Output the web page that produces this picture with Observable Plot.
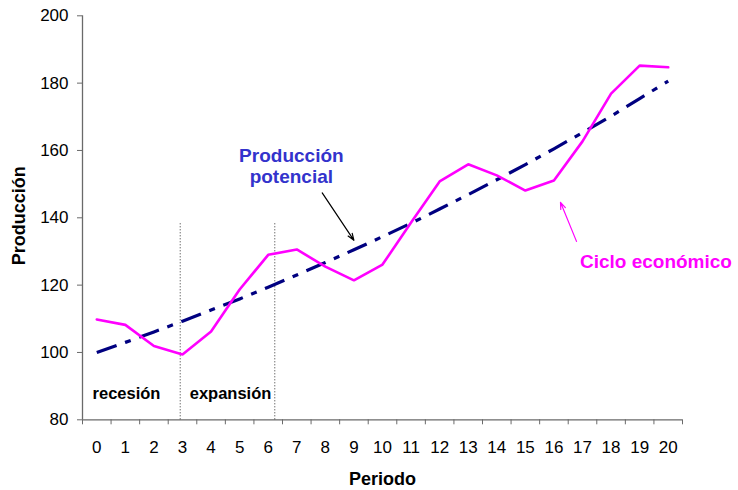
<!DOCTYPE html>
<html>
<head>
<meta charset="utf-8">
<script src="https://cdn.jsdelivr.net/npm/d3@7"></script>
<script src="https://cdn.jsdelivr.net/npm/@observablehq/plot@0.6"></script>
<style>
  html, body { margin: 0; padding: 0; background: #fff; }
  #chart svg { display: block; }
</style>
</head>
<body>
<div id="chart"></div>
<script>
// Periods on the horizontal axis
const periods = [0, 1, 2, 3, 4, 5, 6, 7, 8, 9, 10, 11, 12, 13, 14, 15, 16, 17, 18, 19, 20];

// Potential output (trend growing about 3% per period)
const potential = [100, 103, 106.1, 109.3, 112.6, 115.9, 119.4, 123.0, 126.7, 130.5, 134.4,
                   138.4, 142.6, 146.9, 151.3, 155.8, 160.5, 165.3, 170.2, 175.4, 180.6];

// Actual output following the business cycle
const cycle = [109.8, 108.2, 101.9, 99.4, 106.2, 118.7, 129.0, 130.6, 125.5, 121.4, 126.1,
               138.6, 150.8, 155.9, 152.6, 148.1, 151.1, 162.7, 176.9, 185.2, 184.7];

// Axis ticks
const yTicks = [80, 100, 120, 140, 160, 180, 200];
const xBoundaries = [-0.5, 0.5, 1.5, 2.5, 3.5, 4.5, 5.5, 6.5, 7.5, 8.5, 9.5, 10.5,
                     11.5, 12.5, 13.5, 14.5, 15.5, 16.5, 17.5, 18.5, 19.5, 20.5];

// Phase separators and labels
const phaseBounds = [2.92, 6.23];
const phaseTop = 138.4;
const phaseLabels = ["recesión", "expansión"];
const phaseLabelX = [1.04, 4.68];
const phaseLabelY = 87.8;

// Annotations: [text position] and [arrow tail -> head]
const potentialNote = {text: "Producción\npotencial", x: 6.81, y: 155.4};
const potentialArrow = [{x1: 7.89, y1: 147.4, x2: 9.0, y2: 133.3}];
const cycleNote = {text: "Ciclo económico", x: 16.91, y: 126.9};
const cycleArrow = [{x1: 16.79, y1: 133.0, x2: 16.23, y2: 144.6}];

const rowsPotential = periods.map((p, i) => ({period: p, value: potential[i]}));
const rowsCycle = periods.map((p, i) => ({period: p, value: cycle[i]}));

const font = "'Liberation Sans', Arial, Helvetica, sans-serif";

const chart = Plot.plot({
  width: 738,
  height: 490,
  marginLeft: 82,
  marginRight: 56,
  marginTop: 15.3,
  marginBottom: 70.7,
  style: {fontFamily: font, background: "#fff", color: "#000", overflow: "visible"},
  x: {type: "linear", domain: [-0.5, 20.5], axis: null},
  y: {type: "linear", domain: [80, 200], axis: null},
  marks: [
    // Axis lines
    Plot.ruleX([-0.5], {y1: 80, y2: 200, stroke: "#6a6a6a", strokeWidth: 1.3}),
    Plot.ruleY([80], {x1: -0.5, x2: 20.5, stroke: "#6a6a6a", strokeWidth: 1.3}),
    // Y axis ticks and labels
    Plot.axisY({ticks: yTicks, tickSize: 5, tickPadding: 9, fontSize: 17,
                stroke: "#6a6a6a", fill: "#000", label: null}),
    // X axis: tick marks at category boundaries, labels at centers
    Plot.axisX({ticks: xBoundaries, tickSize: 5, tickFormat: () => "",
                stroke: "#6a6a6a", label: null}),
    Plot.axisX({ticks: periods, tickSize: 0, tickPadding: 21, fontSize: 17,
                fill: "#000", label: null, tickFormat: d => String(d)}),
    // Axis titles
    Plot.text(["Producción"], {frameAnchor: "left", dx: -63, dy: -2, rotate: -90,
                textAnchor: "middle", lineAnchor: "middle",
                fontSize: 18, fontWeight: "bold", fill: "#000"}),
    Plot.text(["Periodo"], {frameAnchor: "bottom", dy: 65.5,
                fontSize: 18, fontWeight: "bold", fill: "#000"}),
    // Phase separators
    Plot.ruleX(phaseBounds, {y1: 80, y2: phaseTop, stroke: "#333", strokeWidth: 1,
                strokeDasharray: "1,2"}),
    Plot.text(phaseLabels, {x: (d, i) => phaseLabelX[i], y: phaseLabelY,
                fontSize: 16.5, fontWeight: "bold", fill: "#000"}),
    // Potential output (dash-dot)
    Plot.line(rowsPotential, {x: "period", y: "value", stroke: "#000080", strokeWidth: 3.2,
                strokeDasharray: "21,9,6,9", strokeLinecap: "butt"}),
    // Business cycle
    Plot.line(rowsCycle, {x: "period", y: "value", stroke: "#ff00ff", strokeWidth: 2.6,
                strokeLinejoin: "miter"}),
    // Annotations
    Plot.text([potentialNote], {x: "x", y: "y", text: "text", fontSize: 19, fontWeight: "bold",
                fill: "#3333cc", lineHeight: 1.12}),
    Plot.arrow(potentialArrow, {x1: "x1", y1: "y1", x2: "x2", y2: "y2", stroke: "#000",
                strokeWidth: 1.2, headLength: 9, headAngle: 40}),
    Plot.text([cycleNote], {x: "x", y: "y", text: "text", fontSize: 19, fontWeight: "bold",
                fill: "#ff00ff", textAnchor: "start"}),
    Plot.arrow(cycleArrow, {x1: "x1", y1: "y1", x2: "x2", y2: "y2", stroke: "#ff00ff",
                strokeWidth: 1.2, headLength: 9, headAngle: 40})
  ]
});

document.getElementById("chart").appendChild(chart);
</script>
</body>
</html>
